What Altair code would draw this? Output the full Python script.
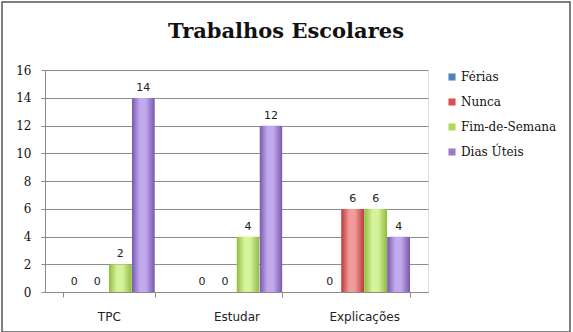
import altair as alt
import pandas as pd

categories = ["TPC", "Estudar", "Explicações"]
series = ["Férias", "Nunca", "Fim-de-Semana", "Dias Úteis"]
ferias = [0, 0, 0]
nunca = [0, 0, 6]
fim_de_semana = [2, 4, 6]
dias_uteis = [14, 12, 4]
title_text = "Trabalhos Escolares"

colors = ["#4F81BD", "#DC4F4F", "#AEDB58", "#9A7CCB"]
grad = {
    "Férias": ("#3A6CA8", "#8DB4E6"),
    "Nunca": ("#B83A3A", "#F39A9A"),
    "Fim-de-Semana": ("#8EBB3C", "#D6F29A"),
    "Dias Úteis": ("#7657AC", "#C2A9EE"),
}

rows = []
for s, vals in zip(series, [ferias, nunca, fim_de_semana, dias_uteis]):
    for c, v in zip(categories, vals):
        rows.append({"cat": c, "serie": s, "value": v})
df = pd.DataFrame(rows)

x = alt.X("cat:N", sort=categories, title=None,
          scale=alt.Scale(paddingInner=0.28, paddingOuter=0.14),
          axis=alt.Axis(labelAngle=0, tickBand="extent", domainColor="#8C8C8C",
                        tickColor="#8C8C8C", tickSize=5, labelPadding=14,
                        labelFont="DejaVu Sans", labelFontSize=12, labelColor="#222"))
xo = alt.XOffset("serie:N", sort=series, scale=alt.Scale(domain=series, paddingInner=0, paddingOuter=0))
y = alt.Y("value:Q", title=None,
          scale=alt.Scale(domain=[0, 16], nice=False),
          axis=alt.Axis(values=list(range(0, 17, 2)), gridColor="#8C8C8C", gridWidth=1,
                        domainColor="#8C8C8C", tickColor="#8C8C8C", tickSize=4,
                        labelFont="DejaVu Serif", labelFontSize=12, labelColor="#111",
                        labelPadding=10))

base = alt.Chart(df)

bars = base.mark_bar(cornerRadiusTopLeft=2, cornerRadiusTopRight=2).encode(
    x=x, xOffset=xo, y=y,
    color=alt.Color("serie:N", sort=series,
                    scale=alt.Scale(domain=series, range=colors),
                    legend=alt.Legend(title=None, orient="none", legendX=401, legendY=1,
                                      labelFont="DejaVu Serif", labelFontSize=12,
                                      labelColor="#111", symbolType="square",
                                      symbolSize=50, rowPadding=13, labelOffset=3)),
)

layers = [bars]
for s in series:
    dark, light = grad[s]
    layers.append(
        base.transform_filter(alt.datum.serie == s).mark_bar(
            cornerRadiusTopLeft=2, cornerRadiusTopRight=2,
            color={"gradient": "linear", "x1": 0, "x2": 1, "y1": 0, "y2": 0,
                   "stops": [{"offset": 0, "color": dark},
                             {"offset": 0.35, "color": light},
                             {"offset": 0.6, "color": light},
                             {"offset": 1, "color": dark}]}
        ).encode(x=x, xOffset=xo, y=y)
    )

labels = base.mark_text(dy=-10, font="DejaVu Sans", fontSize=11, color="#222").encode(
    x=x, xOffset=xo, y=y, text="value:Q")
layers.append(labels)

title = alt.Chart(pd.DataFrame({"t": [title_text]})).mark_text(
    font="DejaVu Serif", fontSize=21, fontWeight="bold", color="#111",
    align="center", baseline="alphabetic").encode(
    x=alt.value(241), y=alt.value(-32), text="t:N")

frame = alt.Chart(pd.DataFrame({"a": [0]})).mark_rect(
    fill=None, stroke="#555", strokeWidth=1.5).encode(
    x=alt.value(-43), x2=alt.value(525), y=alt.value(-68), y2=alt.value(262))

chart = alt.layer(*layers, title, frame).properties(
    width=383, height=222,
    padding={"left": 45, "top": 70, "right": 145, "bottom": 40},
    autosize=alt.AutoSizeParams(type="none"),
).configure_view(stroke=None).configure(background="white")

chart.save("out.html", embed_options={"renderer": "svg", "actions": False})
